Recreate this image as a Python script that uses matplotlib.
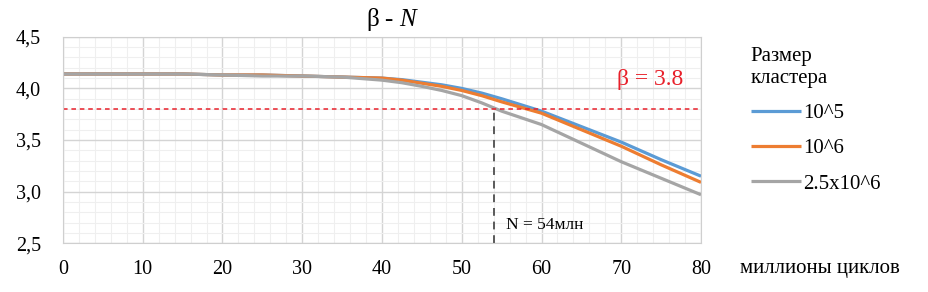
import numpy as np
import matplotlib
matplotlib.use("Agg")
from matplotlib import pyplot as plt
from matplotlib.ticker import MultipleLocator, FuncFormatter

plt.rcParams['font.family'] = ['Liberation Serif', 'DejaVu Serif']
plt.rcParams['mathtext.fontset'] = 'custom'
plt.rcParams['mathtext.rm'] = 'Liberation Serif'
plt.rcParams['mathtext.it'] = 'Liberation Serif:italic'

# data, millions of cycles vs beta
n = [0, 5, 10, 15, 20, 25, 30, 35, 40, 42.5, 45, 47.5, 50, 52.5, 55, 57.5, 60, 62.5, 65, 70, 75, 80]
beta_1e5 = [4.14, 4.14, 4.14, 4.14, 4.13, 4.13, 4.12, 4.11, 4.10, 4.085, 4.06, 4.035, 4.00, 3.955,
            3.90, 3.84, 3.78, 3.705, 3.63, 3.48, 3.31, 3.15]
beta_1e6 = [4.14, 4.14, 4.14, 4.14, 4.13, 4.13, 4.12, 4.11, 4.10, 4.08, 4.05, 4.02, 3.98, 3.93,
            3.87, 3.815, 3.76, 3.68, 3.60, 3.44, 3.26, 3.09]
beta_25e6 = [4.14, 4.14, 4.14, 4.14, 4.13, 4.12, 4.12, 4.11, 4.08, 4.055, 4.02, 3.98, 3.93, 3.86,
             3.78, 3.715, 3.65, 3.56, 3.47, 3.29, 3.13, 2.97]
labels = ["10^5", "10^6", "2.5x10^6"]
colors = ["#5B9BD5", "#ED7D31", "#A5A5A5"]

beta_target = 3.8
n_cross = 54

fig = plt.figure(figsize=(9.29, 2.92), dpi=100)
ax = fig.add_axes([0.0678, 0.1668, 0.6868, 0.7072])

for y, lab, c in zip([beta_1e5, beta_1e6, beta_25e6], labels, colors):
    ax.plot(n, y, color=c, lw=2.3, label=lab, solid_capstyle='butt', solid_joinstyle='round')

ax.axhline(beta_target, color="#E8202A", lw=1.1, linestyle=(0, (3, 2.5)))
ax.vlines(n_cross, 2.5, beta_target, color="#595959", lw=1.4, linestyles=(0, (4, 3)))

ax.set_xlim(0, 80)
ax.set_ylim(2.5, 4.5)
ax.xaxis.set_major_locator(MultipleLocator(10))
ax.xaxis.set_minor_locator(MultipleLocator(2))
ax.yaxis.set_major_locator(MultipleLocator(0.5))
ax.yaxis.set_minor_locator(MultipleLocator(0.1))
ax.yaxis.set_major_formatter(FuncFormatter(lambda v, p: ("%.1f" % v).replace(".", ",")))
ax.grid(which="major", color="#d4d4d4", lw=1.0)
ax.grid(which="minor", color="#efefef", lw=0.8)
ax.set_axisbelow(True)
ax.tick_params(which="both", length=0, labelsize=14.5)
ax.tick_params(axis="x", pad=12)
ax.tick_params(axis="y", pad=16)
for s in ax.spines.values():
    s.set_color("#cfcfcf")

ax.text(0.517, 1.02, "β - $\\mathit{N}$", transform=ax.transAxes, ha="center",
        va="bottom", fontsize=18)
ax.text(77.8, 4.09, "β = 3.8", color="#E8202A", fontsize=17, ha="right", va="center")
ax.text(55.5, 2.68, "N = 54млн", fontsize=12.5, ha="left", va="center")

fig.text(0.797, 0.08, "миллионы циклов", fontsize=15, va="center")

leg = ax.legend(loc="upper left", bbox_to_anchor=(1.065, 0.99), frameon=False,
                title="Размер\nкластера", fontsize=15, title_fontsize=15,
                handlelength=2.4, handletextpad=0.1, labelspacing=0.75,
                borderaxespad=0)
leg._legend_box.align = "left"

fig.savefig("out.png", dpi=100)
